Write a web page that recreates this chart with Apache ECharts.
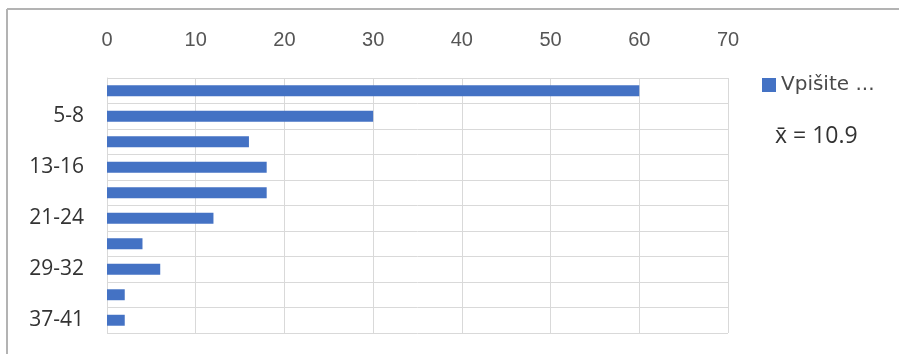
<!DOCTYPE html>
<html>
<head>
<meta charset="utf-8">
<script src="https://cdn.jsdelivr.net/npm/echarts@6/dist/echarts.min.js"></script>
<style>
  html, body { margin: 0; padding: 0; background: #ffffff; }
  #chart { width: 899px; height: 354px; }
</style>
</head>
<body>
<div id="chart"></div>
<script>
// Age groups (top to bottom) and counts per group
const categories = ["1-4", "5-8", "9-12", "13-16", "17-20", "21-24", "25-28", "29-32", "33-36", "37-41"];
const counts = [60, 30, 16, 18, 18, 12, 4, 6, 2, 2];
const seriesName = "Vpišite ...";
const meanLabel = "x̄ = 10.9";
const axisMax = 70;
const axisStep = 10;

const chart = echarts.init(document.getElementById('chart'), null, { renderer: 'canvas' });

chart.setOption({
  animation: false,
  backgroundColor: '#ffffff',
  grid: { left: 107, right: 171, top: 78, bottom: 21, containLabel: false },
  legend: {
    data: [seriesName],
    left: 757, top: 70,
    icon: 'rect', itemWidth: 14, itemHeight: 14, itemGap: 8,
    textStyle: { fontFamily: '"DejaVu Sans", sans-serif', fontSize: 20, color: '#4a4a4a' }
  },
  xAxis: {
    type: 'value',
    position: 'top',
    min: 0, max: axisMax, interval: axisStep,
    axisLine: { show: false },
    axisTick: { show: false },
    axisLabel: { fontFamily: '"Liberation Sans", sans-serif', fontSize: 20, color: '#555555', margin: 28 },
    splitLine: { show: true, lineStyle: { color: '#d9d9d9', width: 1 } }
  },
  yAxis: {
    type: 'category',
    data: categories,
    inverse: true,
    axisLine: { show: true, lineStyle: { color: '#d9d9d9' } },
    axisTick: { show: false },
    axisLabel: {
      interval: (i) => i % 2 === 1,
      fontFamily: '"Open Sans", sans-serif', fontSize: 21, color: '#333333', margin: 23
    },
    splitLine: { show: true, interval: 0, lineStyle: { color: '#d9d9d9', width: 1 } }
  },
  series: [{
    name: seriesName,
    type: 'bar',
    data: counts,
    barWidth: '43%',
    itemStyle: { color: '#4472C4' }
  }],
  graphic: [
    { type: 'line', shape: { x1: 7, y1: 9, x2: 899, y2: 9 }, style: { stroke: '#b3b3b3', lineWidth: 2 } },
    { type: 'line', shape: { x1: 7, y1: 9, x2: 7, y2: 354 }, style: { stroke: '#b3b3b3', lineWidth: 2 } },
    { type: 'rect', shape: { x: 728, y: 78, width: 1, height: 255 }, style: { fill: '#d9d9d9' } },
    { type: 'text', left: 775, top: 125, style: { text: meanLabel, font: '23px "Open Sans", sans-serif', fill: '#333333' } }
  ]
});
</script>
</body>
</html>
